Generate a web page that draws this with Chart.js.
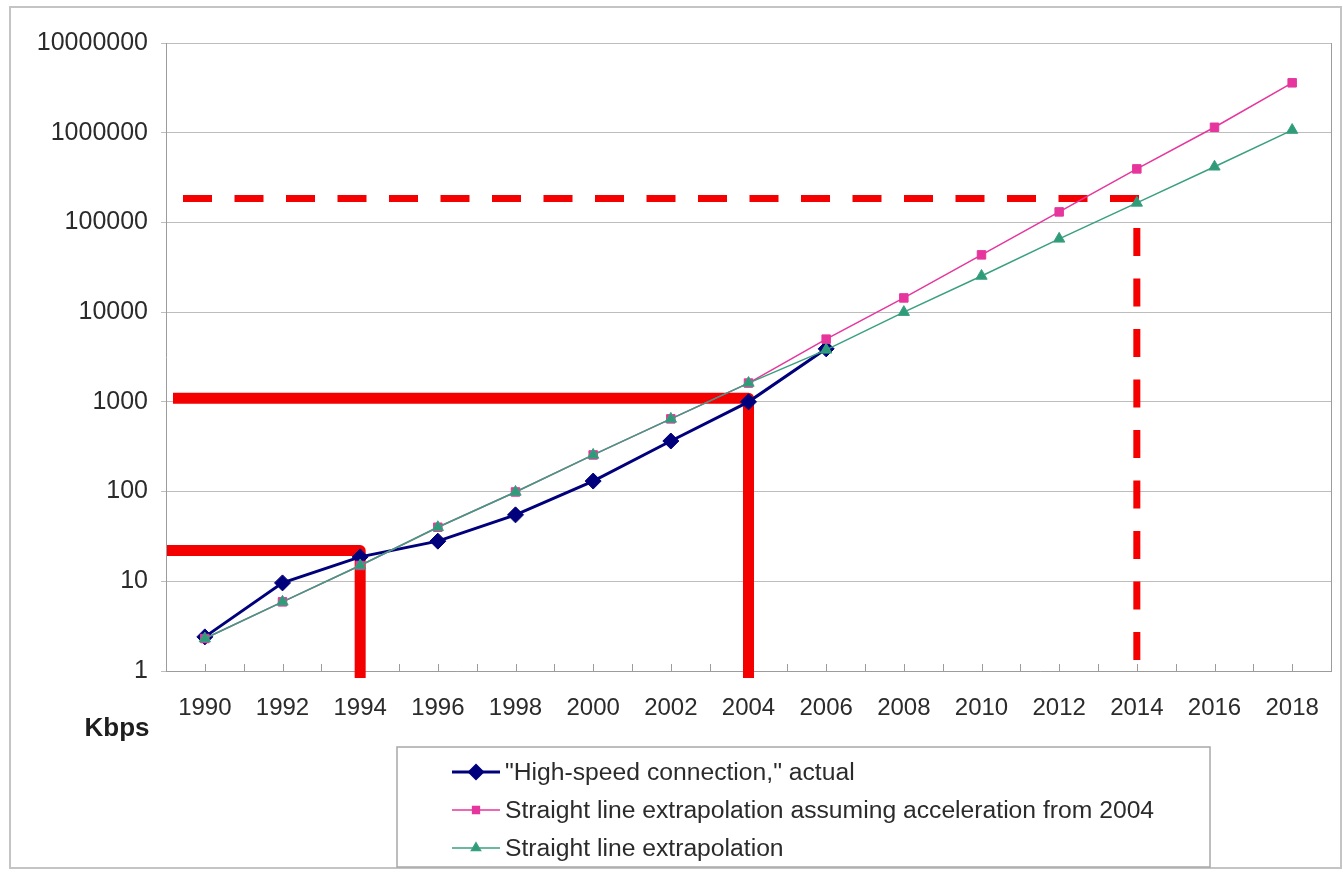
<!DOCTYPE html>
<html>
<head>
<meta charset="utf-8">
<script src="https://cdn.jsdelivr.net/npm/chart.js@4.4.1/dist/chart.umd.min.js"></script>
<style>
  html, body { margin: 0; padding: 0; background: #ffffff; }
  canvas { display: block; }
</style>
</head>
<body>
<canvas id="speedChart" width="1343" height="873"></canvas>
<script>
// Connection speed (Kbps) by year, log scale
const years = [1990, 1992, 1994, 1996, 1998, 2000, 2002, 2004, 2006, 2008, 2010, 2012, 2014, 2016, 2018];
const actualKbps = [2.4, 9.6, 18.7, 28, 55, 131, 366, 1000, 3900];
const acceleratedKbps = [2.3, 5.9, 15, 40, 99, 256, 646, 1620, 5000, 14400, 43500, 131000, 395000, 1150000, 3600000];
const straightKbps = [2.3, 5.9, 15, 40, 99, 256, 646, 1620, 3800, 10000, 25300, 65600, 165000, 417000, 1070000];
const yTickValues = [1, 10, 100, 1000, 10000, 100000, 1000000, 10000000];
const seriesNames = [
  '"High-speed connection," actual',
  'Straight line extrapolation assuming acceleration from 2004',
  'Straight line extrapolation'
];
// Reference guides: year and speed level each guide marks
const guideYears = [1994, 2004, 2014];
const guideKbps = [22, 1100, 185000];
const unitLabel = 'Kbps';

const FONT = "'Liberation Sans', Arial, Helvetica, sans-serif";
const TEXT = '#2b2b2b';
const AXIS = '#9c9c9c';

function points(values) {
  return values.map((v, i) => ({ x: years[i], y: v }));
}

const background = {
  id: 'background',
  beforeDraw(chart) {
    const ctx = chart.ctx;
    ctx.save();
    ctx.fillStyle = '#ffffff';
    ctx.fillRect(0, 0, chart.width, chart.height);
    ctx.restore();
  }
};

// Red guide lines, inward x ticks and right border of the plot
const guides = {
  id: 'guides',
  beforeDatasetsDraw(chart) {
    const ctx = chart.ctx;
    const xs = chart.scales.x, ys = chart.scales.y, a = chart.chartArea;
    ctx.save();

    // inward tick marks, one per year
    ctx.strokeStyle = AXIS;
    ctx.lineWidth = 1;
    ctx.beginPath();
    for (let v = Math.ceil(xs.min); v <= xs.max; v++) {
      const px = Math.round(xs.getPixelForValue(v)) + 0.5;
      ctx.moveTo(px, a.bottom);
      ctx.lineTo(px, a.bottom - 7);
    }
    // right edge of plot area
    ctx.moveTo(a.right + 0.5, a.top);
    ctx.lineTo(a.right + 0.5, a.bottom);
    ctx.stroke();

    const startOffsets = [1, 7, 17];
    ctx.strokeStyle = '#f40000';
    ctx.lineCap = 'butt';
    ctx.lineJoin = 'round';
    guideYears.forEach((yr, i) => {
      const gx = xs.getPixelForValue(yr);
      const gy = ys.getPixelForValue(guideKbps[i]);
      if (i < 2) {
        ctx.beginPath();
        ctx.setLineDash([]);
        ctx.lineWidth = 11;
        ctx.moveTo(a.left + startOffsets[i], gy);
        ctx.lineTo(gx, gy);
        ctx.lineTo(gx, a.bottom + 7);
        ctx.stroke();
      } else {
        ctx.lineWidth = 7;
        // horizontal dashes run from the left
        ctx.beginPath();
        ctx.setLineDash([29, 22.5]);
        ctx.lineDashOffset = 0;
        ctx.moveTo(a.left + startOffsets[i], gy);
        ctx.lineTo(gx + 3, gy);
        ctx.stroke();
        // vertical dashes run up from the axis
        ctx.beginPath();
        ctx.setLineDash([28, 22.5]);
        ctx.lineDashOffset = 39.5;
        ctx.moveTo(gx, a.bottom);
        ctx.lineTo(gx, gy + 3);
        ctx.stroke();
      }
    });
    ctx.restore();
  },
  afterDraw(chart) {
    const ctx = chart.ctx;
    ctx.save();

    // outer frame
    ctx.strokeStyle = '#c4c4c4';
    ctx.lineWidth = 2;
    ctx.strokeRect(10, 7, 1331, 861);

    // unit label under the value axis
    ctx.fillStyle = '#1e1e1e';
    ctx.font = 'bold 26px ' + FONT;
    ctx.textAlign = 'center';
    ctx.textBaseline = 'middle';
    ctx.fillText(unitLabel, 117, 729);

    // legend box
    const lx = 397, ly = 747, lw = 813, lh = 120;
    ctx.strokeStyle = '#a8a8a8';
    ctx.lineWidth = 1.5;
    ctx.strokeRect(lx, ly, lw, lh);
    ctx.font = '24.7px ' + FONT;
    ctx.textAlign = 'left';
    chart.data.datasets.forEach((ds, i) => {
      const ry = 772 + i * 38;
      ctx.strokeStyle = ds.borderColor;
      ctx.lineWidth = ds.borderWidth;
      ctx.setLineDash([]);
      ctx.beginPath();
      ctx.moveTo(452, ry);
      ctx.lineTo(500, ry);
      ctx.stroke();
      ctx.fillStyle = ds.backgroundColor;
      Chart.helpers.drawPoint(ctx, {
        pointStyle: ds.pointStyle,
        radius: ds.pointRadius * 0.8,
        rotation: 0,
        borderWidth: 1
      }, 476, ry);
      ctx.fillStyle = TEXT;
      ctx.fillText(ds.label, 505, ry + 1);
    });
    ctx.restore();
  }
};

new Chart(document.getElementById('speedChart'), {
  type: 'line',
  data: {
    datasets: [
      {
        label: seriesNames[0],
        data: points(actualKbps),
        borderColor: '#00007c',
        backgroundColor: '#00007c',
        borderWidth: 3,
        pointStyle: 'rectRot',
        pointRadius: 8,
        pointBorderWidth: 1,
        tension: 0,
        clip: false,
        order: 2
      },
      {
        label: seriesNames[1],
        data: points(acceleratedKbps),
        borderColor: '#e6369d',
        backgroundColor: '#e6369d',
        borderWidth: 1.5,
        pointStyle: 'rect',
        pointRadius: 6,
        pointBorderWidth: 1,
        tension: 0,
        clip: false,
        order: 1
      },
      {
        label: seriesNames[2],
        data: points(straightKbps),
        borderColor: '#3a9f80',
        backgroundColor: '#2f9c79',
        borderWidth: 1.5,
        pointStyle: 'triangle',
        pointRadius: 6.5,
        pointBorderWidth: 1,
        tension: 0,
        clip: false,
        order: 0
      }
    ]
  },
  options: {
    responsive: false,
    animation: false,
    devicePixelRatio: 1,
    layout: { padding: { top: 43, right: 12, left: 0, bottom: 0 } },
    plugins: {
      legend: { display: false },
      tooltip: { enabled: false }
    },
    scales: {
      x: {
        type: 'linear',
        min: 1989,
        max: 2019,
        afterBuildTicks: s => { s.ticks = years.map(v => ({ value: v })); },
        afterFit: s => { s.height = 202; },
        grid: { display: false, drawTicks: false },
        border: { display: true, color: AXIS, width: 1 },
        ticks: {
          font: { family: FONT, size: 24 },
          color: TEXT,
          padding: 23,
          maxRotation: 0,
          autoSkip: false,
          callback: v => String(v)
        }
      },
      y: {
        type: 'logarithmic',
        min: 1,
        max: 10000000,
        afterBuildTicks: s => { s.ticks = yTickValues.map(v => ({ value: v })); },
        afterFit: s => { s.width = 166; },
        grid: { color: '#bdbdbd', lineWidth: 1, tickLength: 5, drawTicks: true },
        border: { display: true, color: AXIS, width: 1 },
        ticks: {
          font: { family: FONT, size: 25 },
          color: TEXT,
          padding: 13,
          autoSkip: false,
          callback: v => String(v)
        }
      }
    }
  },
  plugins: [background, guides]
});
</script>
</body>
</html>
